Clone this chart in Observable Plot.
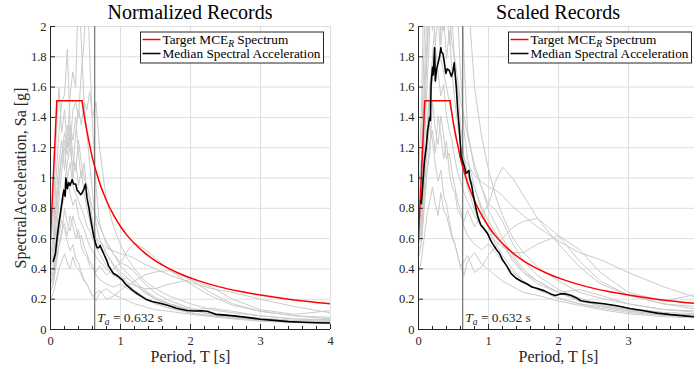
<!DOCTYPE html>
<html><head><meta charset="utf-8">
<script src="https://cdn.jsdelivr.net/npm/d3@7"></script>
<script src="https://cdn.jsdelivr.net/npm/@observablehq/plot@0.6"></script>
<style>
html,body{margin:0;padding:0;background:#fff;overflow:hidden}
#wrap{position:relative;width:694px;height:371px;overflow:hidden;font-family:"Liberation Serif",serif;color:#262626;background:#fff}
#wrap svg, #wrap svg text{font-family:"Liberation Serif",serif !important}
.panel{position:absolute;top:0;height:371px}
.title{position:absolute;top:2px;height:20px;line-height:20px;font-size:20px;text-align:center;color:#000;white-space:nowrap}
</style></head><body><div id="wrap"></div>
<script>
// ---------------- data ----------------
const PERIODS = [0,0.04,0.08,0.12,0.16,0.2,0.24,0.28,0.32,0.36,0.4,0.44,0.48,0.52,0.56,0.6,0.65,0.7,0.8,0.9,1.0,1.1,1.2,1.35,1.5,1.7,2.0,2.3,2.6,3.0,3.5,4.0];
// normalized ground-motion records (Sa in g at PERIODS)
const REC_01 = [0.35,0.42,0.7,0.95,1.15,1.3,1.2,1.55,1.7,1.6,2.3,1.9,1.5,1.3,1.1,0.9,0.7,0.6,0.5,0.42,0.36,0.3,0.26,0.21,0.17,0.14,0.11,0.09,0.075,0.06,0.05,0.045];
const REC_02 = [0.4,0.5,0.85,1.1,1.25,1.05,1.35,1.2,1.45,1.5,1.4,1.7,1.9,2.4,1.8,1.35,0.95,0.7,0.56,0.5,0.44,0.42,0.38,0.3,0.24,0.19,0.14,0.11,0.09,0.075,0.06,0.055];
const REC_03 = [0.5,0.6,1.0,1.3,1.5,1.55,1.85,1.35,1.25,1.4,1.15,1.0,1.1,0.9,0.85,0.72,0.6,0.55,0.5,0.43,0.38,0.34,0.3,0.25,0.2,0.17,0.13,0.1,0.085,0.07,0.055,0.05];
const REC_04 = [0.55,0.75,1.25,1.6,1.3,1.45,1.2,1.35,1.15,1.05,1.25,1.1,1.0,0.95,0.88,0.8,0.75,0.68,0.58,0.5,0.42,0.37,0.32,0.26,0.21,0.17,0.13,0.1,0.085,0.065,0.05,0.045];
const REC_05 = [0.3,0.35,0.5,0.7,0.85,0.95,1.1,1.2,1.05,1.3,1.45,1.35,1.5,1.45,1.57,1.4,1.5,1.2,0.85,0.68,0.56,0.47,0.4,0.32,0.27,0.22,0.17,0.13,0.11,0.09,0.07,0.065];
const REC_06 = [0.25,0.3,0.45,0.55,0.65,0.7,0.62,0.75,0.68,0.6,0.66,0.55,0.5,0.48,0.42,0.4,0.38,0.42,0.36,0.4,0.44,0.52,0.57,0.53,0.47,0.39,0.3,0.22,0.16,0.12,0.09,0.08];
const REC_07 = [0.3,0.32,0.5,0.65,0.8,0.88,1.0,0.9,0.82,0.86,0.75,0.7,0.66,0.6,0.55,0.52,0.48,0.45,0.4,0.36,0.33,0.31,0.29,0.27,0.27,0.3,0.33,0.28,0.2,0.13,0.1,0.125];
const REC_08 = [0.2,0.24,0.32,0.4,0.45,0.5,0.44,0.4,0.48,0.42,0.4,0.36,0.32,0.3,0.26,0.22,0.24,0.26,0.2,0.22,0.26,0.29,0.32,0.36,0.38,0.39,0.33,0.24,0.17,0.12,0.09,0.07];
const REC_09 = [0.35,0.38,0.5,0.62,0.72,0.66,0.58,0.52,0.56,0.47,0.44,0.38,0.33,0.3,0.26,0.22,0.19,0.24,0.27,0.23,0.21,0.19,0.17,0.15,0.13,0.12,0.1,0.085,0.07,0.055,0.045,0.04];
const REC_10 = [0.45,0.55,0.8,1.0,1.15,1.2,1.0,1.1,0.95,0.9,0.85,0.8,0.75,0.68,0.65,0.6,0.55,0.5,0.42,0.36,0.33,0.34,0.3,0.24,0.2,0.16,0.13,0.14,0.12,0.09,0.07,0.06];
const REC_11 = [0.3,0.38,0.6,0.85,1.05,1.25,1.15,1.3,1.0,1.1,0.95,1.05,0.9,0.8,0.72,0.65,0.6,0.58,0.54,0.52,0.5,0.49,0.47,0.43,0.4,0.36,0.31,0.27,0.245,0.2,0.15,0.11];
const REC_12 = [0.28,0.3,0.42,0.55,0.62,0.8,0.7,0.65,0.75,0.68,0.6,0.62,0.55,0.5,0.45,0.42,0.36,0.33,0.3,0.28,0.3,0.27,0.24,0.2,0.17,0.14,0.11,0.09,0.08,0.065,0.055,0.05];
const RECORDS = [REC_01,REC_02,REC_03,REC_04,REC_05,REC_06,REC_07,REC_08,REC_09,REC_10,REC_11,REC_12];
const SCALE_FACTOR = 1.88;

// target MCE_R spectrum
const TARGET_T  = [0,0.09,0.45,0.5,0.55,0.6,0.65,0.7,0.75,0.8,0.9,1.0,1.1,1.2,1.35,1.5,1.7,1.9,2.1,2.4,2.7,3.0,3.4,3.8,4.0];
const TARGET_SA = [0.60,1.51,1.51,1.36,1.24,1.13,1.046,0.971,0.907,0.85,0.756,0.68,0.618,0.567,0.504,0.453,0.40,0.358,0.324,0.283,0.252,0.227,0.20,0.179,0.17];

// median spectra
const MED_NORM_T  = [0.04,0.07,0.095,0.12,0.14,0.17,0.19,0.21,0.22,0.24,0.26,0.28,0.31,0.33,0.36,0.38,0.40,0.43,0.45,0.48,0.5,0.52,0.55,0.57,0.6,0.62,0.65,0.667,0.69,0.71,0.73,0.76,0.8,0.83,0.87,0.9,0.94,0.98,1.02,1.07,1.12,1.17,1.21,1.26,1.31,1.36,1.45,1.55,1.67,1.8,1.95,2.05,2.15,2.24,2.3,2.36,2.5,2.62,2.8,3.0,3.2,3.4,3.6,3.8,4.0];
const MED_NORM_SA = [0.45,0.50,0.61,0.70,0.76,0.86,0.92,0.88,1.0,0.93,0.97,0.95,0.99,0.96,0.96,0.92,0.91,0.89,0.90,0.93,0.96,0.87,0.80,0.74,0.66,0.61,0.56,0.54,0.54,0.555,0.53,0.50,0.46,0.42,0.39,0.37,0.36,0.345,0.33,0.30,0.28,0.26,0.246,0.23,0.215,0.20,0.185,0.175,0.16,0.14,0.125,0.122,0.124,0.12,0.11,0.10,0.095,0.09,0.08,0.068,0.06,0.052,0.048,0.045,0.043];
const MED_SCAL_T  = [0.03,0.04,0.06,0.085,0.11,0.13,0.16,0.17,0.18,0.2,0.21,0.23,0.24,0.26,0.275,0.3,0.32,0.33,0.35,0.37,0.39,0.41,0.44,0.47,0.49,0.51,0.54,0.56,0.585,0.61,0.64,0.66,0.68,0.7,0.72,0.73,0.76,0.78,0.82,0.85,0.89,0.92,0.96,0.99,1.03,1.06,1.11,1.16,1.2,1.26,1.32,1.39,1.46,1.55,1.62,1.7,1.8,1.89,1.95,2.03,2.1,2.18,2.25,2.32,2.45,2.65,2.85,3.03,3.2,3.41,3.6,3.8,4.0];
const MED_SCAL_SA = [0.85,0.83,0.95,1.115,1.2,1.31,1.40,1.38,1.62,1.73,1.68,1.86,1.64,1.72,1.75,1.80,1.86,1.83,1.82,1.76,1.69,1.72,1.71,1.67,1.70,1.76,1.60,1.45,1.31,1.14,1.10,1.07,1.03,1.04,1.05,1.0,0.95,0.895,0.80,0.74,0.69,0.675,0.65,0.63,0.59,0.565,0.53,0.50,0.46,0.42,0.37,0.34,0.32,0.30,0.28,0.27,0.255,0.235,0.225,0.235,0.235,0.225,0.21,0.19,0.18,0.17,0.155,0.137,0.125,0.108,0.098,0.09,0.082];

const TA = 0.632;
const X_TICKS = [0,1,2,3,4];
const X_TICKS_RIGHT = [0,1,2,3];
const X_MINOR = [0.2,0.4,0.6,0.8,1.2,1.4,1.6,1.8,2.2,2.4,2.6,2.8,3.2,3.4,3.6,3.8];
const Y_TICKS = [0,0.2,0.4,0.6,0.8,1,1.2,1.4,1.6,1.8,2];
const TITLES = ["Normalized Records","Scaled Records"];
const X_LABEL = "Period, T [s]";
const Y_LABEL = "SpectralAcceleration, Sa [g]";

// ---------------- build ----------------
const zip = (T, S) => T.map((t, i) => ({T: t, Sa: S[i]}));
const target = zip(TARGET_T, TARGET_SA);
const targetRise = target.filter(d => d.T <= 0.45);
const targetFall = target.filter(d => d.T >= 0.45);

function recordsTable(factor) {
  const out = [];
  RECORDS.forEach((r, k) => r.forEach((v, i) => out.push({rec: k, T: PERIODS[i], Sa: v * factor})));
  return out;
}

const wrap = document.getElementById("wrap");
const FONT = '"Liberation Serif", serif';

function panel({left, width, marginLeft, marginRight, title, recs, median, yLabel, xLabels}) {
  const div = document.createElement("div");
  div.className = "panel";
  div.style.left = left + "px";
  div.style.width = width + "px";
  const plot = Plot.plot({
    width, height: 371,
    marginTop: 26, marginBottom: 42, marginLeft, marginRight,
    x: {domain: [0, 4]},
    y: {domain: [0, 2]},
    style: {fontSize: "12.5px", color: "#262626", background: "transparent", overflow: "visible"},
    marks: [
      Plot.gridX(X_TICKS, {stroke: "#dedede", strokeOpacity: 1}),
      Plot.gridY(Y_TICKS, {stroke: "#dedede", strokeOpacity: 1}),
      Plot.line(recs, {x: "T", y: "Sa", z: "rec", stroke: "#cbcbcb", strokeWidth: 1, clip: true}),
      Plot.ruleX([TA], {stroke: "#555", strokeWidth: 1}),
      Plot.line(targetRise, {x: "T", y: "Sa", stroke: "#ff0000", strokeWidth: 1.5, clip: true}),
      Plot.line(targetFall, {x: "T", y: "Sa", stroke: "#ff0000", strokeWidth: 1.5, curve: "monotone-x", clip: true}),
      Plot.line(median, {x: "T", y: "Sa", stroke: "#000", strokeWidth: 1.6, clip: true}),
      Plot.ruleX([0], {stroke: "#262626", strokeWidth: 1}),
      Plot.ruleY([0], {stroke: "#262626", strokeWidth: 1}),
      Plot.ruleX(X_TICKS, {y1: 0, y2: 0, insetBottom: 5, stroke: "#262626"}),
      Plot.ruleX(X_MINOR, {y1: 0, y2: 0, insetBottom: 3, stroke: "#262626"}),
      Plot.ruleY(Y_TICKS, {x1: 0, x2: 0, insetRight: -5, stroke: "#262626"}),
      Plot.axisX(xLabels, {tickSize: 0, tickPadding: 6.5, label: null, tickFormat: d => String(d)}),
      Plot.axisY(Y_TICKS, {tickSize: 0, tickPadding: 4, label: null, tickFormat: d => String(d)}),
      Plot.text([X_LABEL], {frameAnchor: "bottom", textAnchor: "middle", lineAnchor: "middle", dy: 27, fontSize: 16, fill: "#262626"}),
      yLabel ? Plot.text([yLabel], {frameAnchor: "left", textAnchor: "middle", lineAnchor: "middle", rotate: -90, dx: -30, fontSize: 16, fill: "#262626"}) : null
    ]
  });
  const xs = plot.scale("x"), ys = plot.scale("y");
  const svg = d3.select(plot).attr("font-family", FONT);
  // T_a annotation
  const t = svg.append("text")
    .attr("x", xs.apply(TA) + 3).attr("y", ys.apply(0) - 7)
    .attr("text-anchor", "start")
    .attr("font-size", 13.5).attr("fill", "#262626");
  t.append("tspan").attr("font-style", "italic").text("T");
  t.append("tspan").attr("font-style", "italic").attr("font-size", 9.5).attr("dy", 3).text("a");
  t.append("tspan").attr("dy", -3).text(" = 0.632 s");
  // legend
  const plotRight = xs.apply(4);
  const lx = plotRight - 6.5 - 183, ly = 32;
  const g = svg.append("g").attr("text-anchor", "start");
  g.append("rect").attr("x", lx).attr("y", ly).attr("width", 183).attr("height", 31)
    .attr("fill", "#fff").attr("stroke", "#262626").attr("stroke-width", 1);
  const rows = [{c: "#ff0000", y: 39.5, base: 43.5}, {c: "#000", y: 53.5, base: 57.5}];
  rows.forEach((r, i) => {
    g.append("line").attr("x1", lx + 2).attr("x2", lx + 20).attr("y1", r.y).attr("y2", r.y)
      .attr("stroke", r.c).attr("stroke-width", 1.5);
    const tx = g.append("text").attr("x", lx + 22).attr("y", r.base).attr("font-size", 13.3).attr("fill", "#000");
    if (i === 0) {
      tx.append("tspan").text("Target MCE");
      tx.append("tspan").attr("font-style", "italic").attr("font-size", 9.5).attr("dy", 3).text("R");
      tx.append("tspan").attr("dy", -3).text(" Spectrum");
    } else {
      tx.text("Median Spectral Acceleration");
    }
  });
  div.appendChild(plot);
  const tt = document.createElement("div");
  tt.className = "title";
  tt.style.left = marginLeft + "px";
  tt.style.width = (width - marginLeft - marginRight) + "px";
  tt.textContent = title;
  div.appendChild(tt);
  wrap.appendChild(div);
}

panel({left: 0, width: 347, marginLeft: 50, marginRight: 17, title: TITLES[0],
  recs: recordsTable(1), median: zip(MED_NORM_T, MED_NORM_SA), yLabel: Y_LABEL, xLabels: X_TICKS});
panel({left: 347, width: 351, marginLeft: 71, marginRight: 0, title: TITLES[1],
  recs: recordsTable(SCALE_FACTOR), median: zip(MED_SCAL_T, MED_SCAL_SA), yLabel: null, xLabels: X_TICKS_RIGHT});
</script></body></html>
